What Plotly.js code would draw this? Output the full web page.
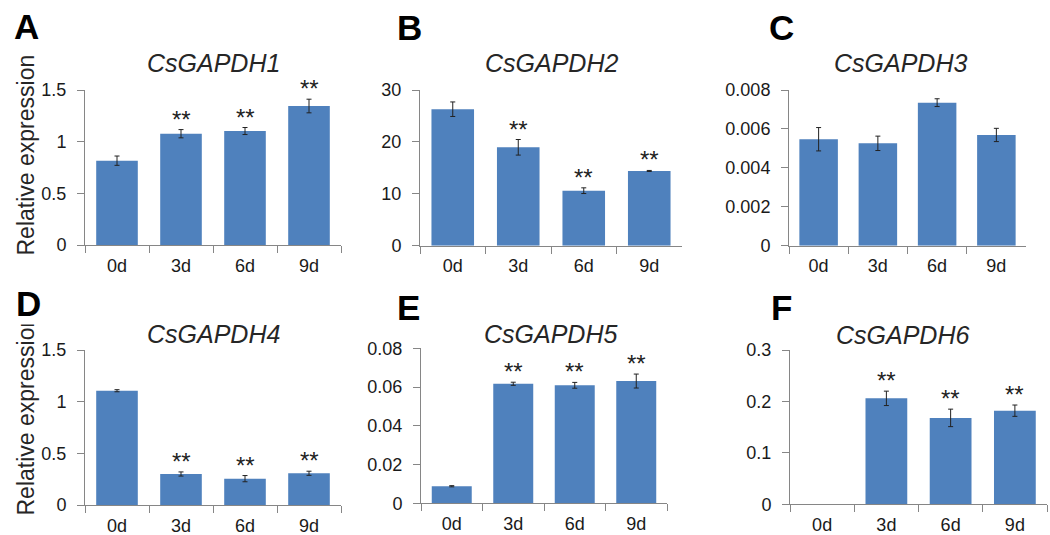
<!DOCTYPE html>
<html>
<head>
<meta charset="utf-8">
<script src="https://cdn.plot.ly/plotly-3.0.1.min.js"></script>
<style>html,body{margin:0;padding:0;background:#fff;}#chart{width:1050px;height:535px;}</style>
</head>
<body>
<div id="chart"></div>
<script>
const categories = ['0d', '3d', '6d', '9d'];

const gene1 = [0.816, 1.077, 1.103, 1.345];
const err1  = [0.045, 0.040, 0.034, 0.066];
const gene2 = [26.3, 18.96, 10.6, 14.4];
const err2  = [1.4, 1.5, 0.55, 0.1];
const gene3 = [0.00547, 0.00526, 0.00735, 0.00569];
const err3  = [0.0006, 0.00037, 0.0002, 0.00034];
const gene4 = [1.106, 0.300, 0.255, 0.307];
const err4  = [0.010, 0.020, 0.030, 0.020];
const gene5 = [0.0088, 0.0617, 0.0609, 0.0631];
const err5  = [0.0003, 0.0008, 0.0015, 0.0036];
const gene6 = [null, 0.206, 0.168, 0.182];   // 0d: not detected (no bar drawn)
const err6  = [null, 0.014, 0.017, 0.011];

const sig1 = ['', '**', '**', '**'];
const sig2 = ['', '**', '**', '**'];
const sig3 = ['', '', '', ''];
const sig4 = ['', '**', '**', '**'];
const sig5 = ['', '**', '**', '**'];
const sig6 = ['', '**', '**', '**'];

const geneNames = ['CsGAPDH1', 'CsGAPDH2', 'CsGAPDH3', 'CsGAPDH4', 'CsGAPDH5', 'CsGAPDH6'];
const panelLetters = ['A', 'B', 'C', 'D', 'E', 'F'];
const yMax = [1.5, 30, 0.008, 1.5, 0.08, 0.3];
const yStep = [0.5, 10, 0.002, 0.5, 0.02, 0.1];

const values = [gene1, gene2, gene3, gene4, gene5, gene6];
const errors = [err1, err2, err3, err4, err5, err6];
const sigs = [sig1, sig2, sig3, sig4, sig5, sig6];

// layout in pixels (W x H)
const W = 1050, H = 535;
const boxes = [
  {x0: 85, x1: 341, y0: 90, y1: 245},
  {x0: 420, x1: 682, y0: 90, y1: 245.7},
  {x0: 789, x1: 1026, y0: 90, y1: 245.7},
  {x0: 85, x1: 341, y0: 350, y1: 505},
  {x0: 421, x1: 667, y0: 348.3, y1: 503.3},
  {x0: 790, x1: 1047, y0: 350, y1: 504.3}
];
const titlePos = [[213, 63], [551, 63], [900, 63], [213, 334], [550, 334], [902, 335]];
const letterPos = [[26, 26], [409, 28], [781, 28], [28, 304], [408, 307], [781, 307]];
const ylabelPos = [[25, 155.5], [25, 415.5]];

const axisColor = '#868686';
const barColor = '#4F81BD';
const fontFam = 'Liberation Sans, Arial, sans-serif';

const data = [];
const layout = {
  width: W, height: H,
  margin: {l: 0, r: 0, t: 0, b: 0},
  paper_bgcolor: '#fff', plot_bgcolor: '#fff',
  showlegend: false,
  bargap: 0.35,
  font: {family: fontFam, size: 18, color: '#1a1a1a'},
  annotations: []
};

for (let i = 0; i < 6; i++) {
  const s = i === 0 ? '' : String(i + 1);
  const b = boxes[i];
  data.push({
    type: 'bar',
    x: categories,
    y: values[i],
    xaxis: 'x' + s, yaxis: 'y' + s,
    marker: {color: barColor},
    error_y: {type: 'data', array: errors[i], visible: true, color: '#222', thickness: 1, width: 2.5},
    hoverinfo: 'x+y'
  });
  layout['xaxis' + s] = {
    domain: [b.x0 / W, b.x1 / W],
    anchor: 'y' + s,
    type: 'category',
    categoryarray: categories,
    range: [-0.5, 3.5],
    tickson: 'boundaries',
    ticks: 'outside', ticklen: 7, tickcolor: axisColor, tickwidth: 1,
    showline: true, linecolor: axisColor, linewidth: 1,
    showgrid: false, zeroline: false,
    tickfont: {family: fontFam, size: 18, color: '#1a1a1a'},
    ticklabelstandoff: 4,
    fixedrange: true
  };
  layout['yaxis' + s] = {
    domain: [(H - b.y1) / H, (H - b.y0) / H],
    anchor: 'x' + s,
    range: [0, yMax[i]],
    dtick: yStep[i], tick0: 0,
    ticks: 'outside', ticklen: 7, tickcolor: axisColor, tickwidth: 1,
    showline: true, linecolor: axisColor, linewidth: 1,
    showgrid: false, zeroline: false,
    tickfont: {family: fontFam, size: 18, color: '#1a1a1a'},
    ticklabelstandoff: 7,
    fixedrange: true
  };
  // significance stars
  for (let j = 0; j < categories.length; j++) {
    if (!sigs[i][j] || values[i][j] == null) continue;
    layout.annotations.push({
      xref: 'x' + s, yref: 'y' + s,
      x: categories[j], y: values[i][j] + (errors[i][j] || 0),
      text: sigs[i][j], showarrow: false,
      xanchor: 'center', yanchor: 'bottom', yshift: -5,
      font: {family: fontFam, size: 24, color: '#222'}
    });
  }
  // gene title
  layout.annotations.push({
    xref: 'paper', yref: 'paper',
    x: titlePos[i][0] / W, y: (H - titlePos[i][1]) / H,
    text: '<i>' + geneNames[i] + '</i>', showarrow: false,
    xanchor: 'center', yanchor: 'middle',
    font: {family: fontFam, size: 25, color: '#262626'}
  });
}

// y-axis titles
for (let k = 0; k < ylabelPos.length; k++) {
  layout.annotations.push({
    xref: 'paper', yref: 'paper',
    x: ylabelPos[k][0] / W, y: (H - ylabelPos[k][1]) / H,
    text: 'Relative expression', showarrow: false, textangle: -90,
    xanchor: 'center', yanchor: 'middle',
    font: {family: fontFam, size: 23, color: '#262626'}
  });
}

// panel letters
for (let i = 0; i < 6; i++) {
  layout.annotations.push({
    xref: 'paper', yref: 'paper',
    x: letterPos[i][0] / W, y: (H - letterPos[i][1]) / H,
    text: '<b>' + panelLetters[i] + '</b>', showarrow: false,
    xanchor: 'center', yanchor: 'middle',
    bgcolor: i === 3 ? '#fff' : 'rgba(0,0,0,0)',
    font: {family: fontFam, size: 35, color: '#000'}
  });
}

Plotly.newPlot('chart', data, layout, {displayModeBar: false, staticPlot: true});
</script>
</body>
</html>
